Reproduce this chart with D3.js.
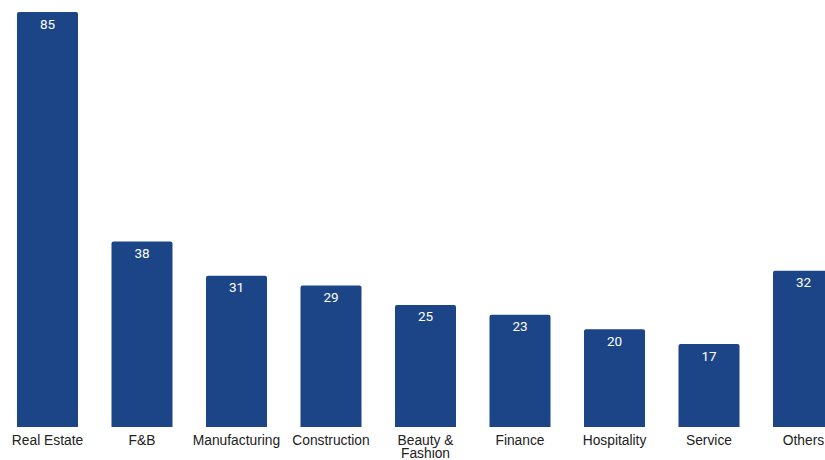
<!DOCTYPE html>
<html>
<head>
<meta charset="utf-8">
<script src="https://cdn.jsdelivr.net/npm/d3@7"></script>
<style>
  html, body { margin: 0; padding: 0; background: #fff; }
  svg { display: block; }
</style>
</head>
<body>
<svg id="chart" width="825" height="460"></svg>
<script>
// Companies by industry
const categories = ["Real Estate", "F&B", "Manufacturing", "Construction", "Beauty & Fashion",
                    "Finance", "Hospitality", "Service", "Others"];
const counts = [85, 38, 31, 29, 25, 23, 20, 17, 32];
// Axis labels, split into lines where they wrap
const tickLines = [["Real Estate"], ["F&B"], ["Manufacturing"], ["Construction"], ["Beauty &", "Fashion"],
                   ["Finance"], ["Hospitality"], ["Service"], ["Others"]];

const W = 825, H = 460;
const baseY = 427, topY = 12;
const barColor = "#1c4587";

const svg = d3.select("#chart");

const x = d3.scaleBand()
  .domain(categories)
  .range([0.25, 0.25 + 94.5 * categories.length])
  .paddingInner(0.3545)
  .paddingOuter(0.1772);

const y = d3.scaleLinear()
  .domain([0, d3.max(counts)])
  .range([baseY, topY]);

const data = categories.map((c, i) => ({ cat: c, value: counts[i], lines: tickLines[i] }));

// bars with slightly rounded top corners
const r = 2;
function barPath(d) {
  const x0 = x(d.cat), x1 = x0 + x.bandwidth();
  const y0 = y(d.value), y1 = y(0);
  return `M${x0},${y1}V${y0 + r}Q${x0},${y0} ${x0 + r},${y0}H${x1 - r}Q${x1},${y0} ${x1},${y0 + r}V${y1}Z`;
}

svg.append("g").selectAll("path")
  .data(data)
  .join("path")
  .attr("d", barPath)
  .attr("fill", barColor);

// value labels inside the bar tops
svg.append("g").selectAll("text")
  .data(data)
  .join("text")
  .attr("x", d => x(d.cat) + x.bandwidth() / 2)
  .attr("y", d => y(d.value) + 16.5)
  .attr("text-anchor", "middle")
  .attr("fill", "#ffffff")
  .attr("font-family", "Roboto, 'Liberation Sans', Arial, sans-serif")
  .attr("font-size", "13.5px")
  .text(d => d.value);

// category labels
const labels = svg.append("g").selectAll("text")
  .data(data)
  .join("text")
  .attr("x", d => x(d.cat) + x.bandwidth() / 2)
  .attr("y", baseY + 18)
  .attr("text-anchor", "middle")
  .attr("fill", "#222222")
  .attr("font-family", "'Liberation Sans', Arial, sans-serif")
  .attr("font-size", "13.8px");

labels.selectAll("tspan")
  .data(d => d.lines.map(l => ({ l, cx: x(d.cat) + x.bandwidth() / 2 })))
  .join("tspan")
  .attr("x", t => t.cx)
  .attr("dy", (t, i) => i === 0 ? 0 : 13)
  .text(t => t.l);
</script>
</body>
</html>
